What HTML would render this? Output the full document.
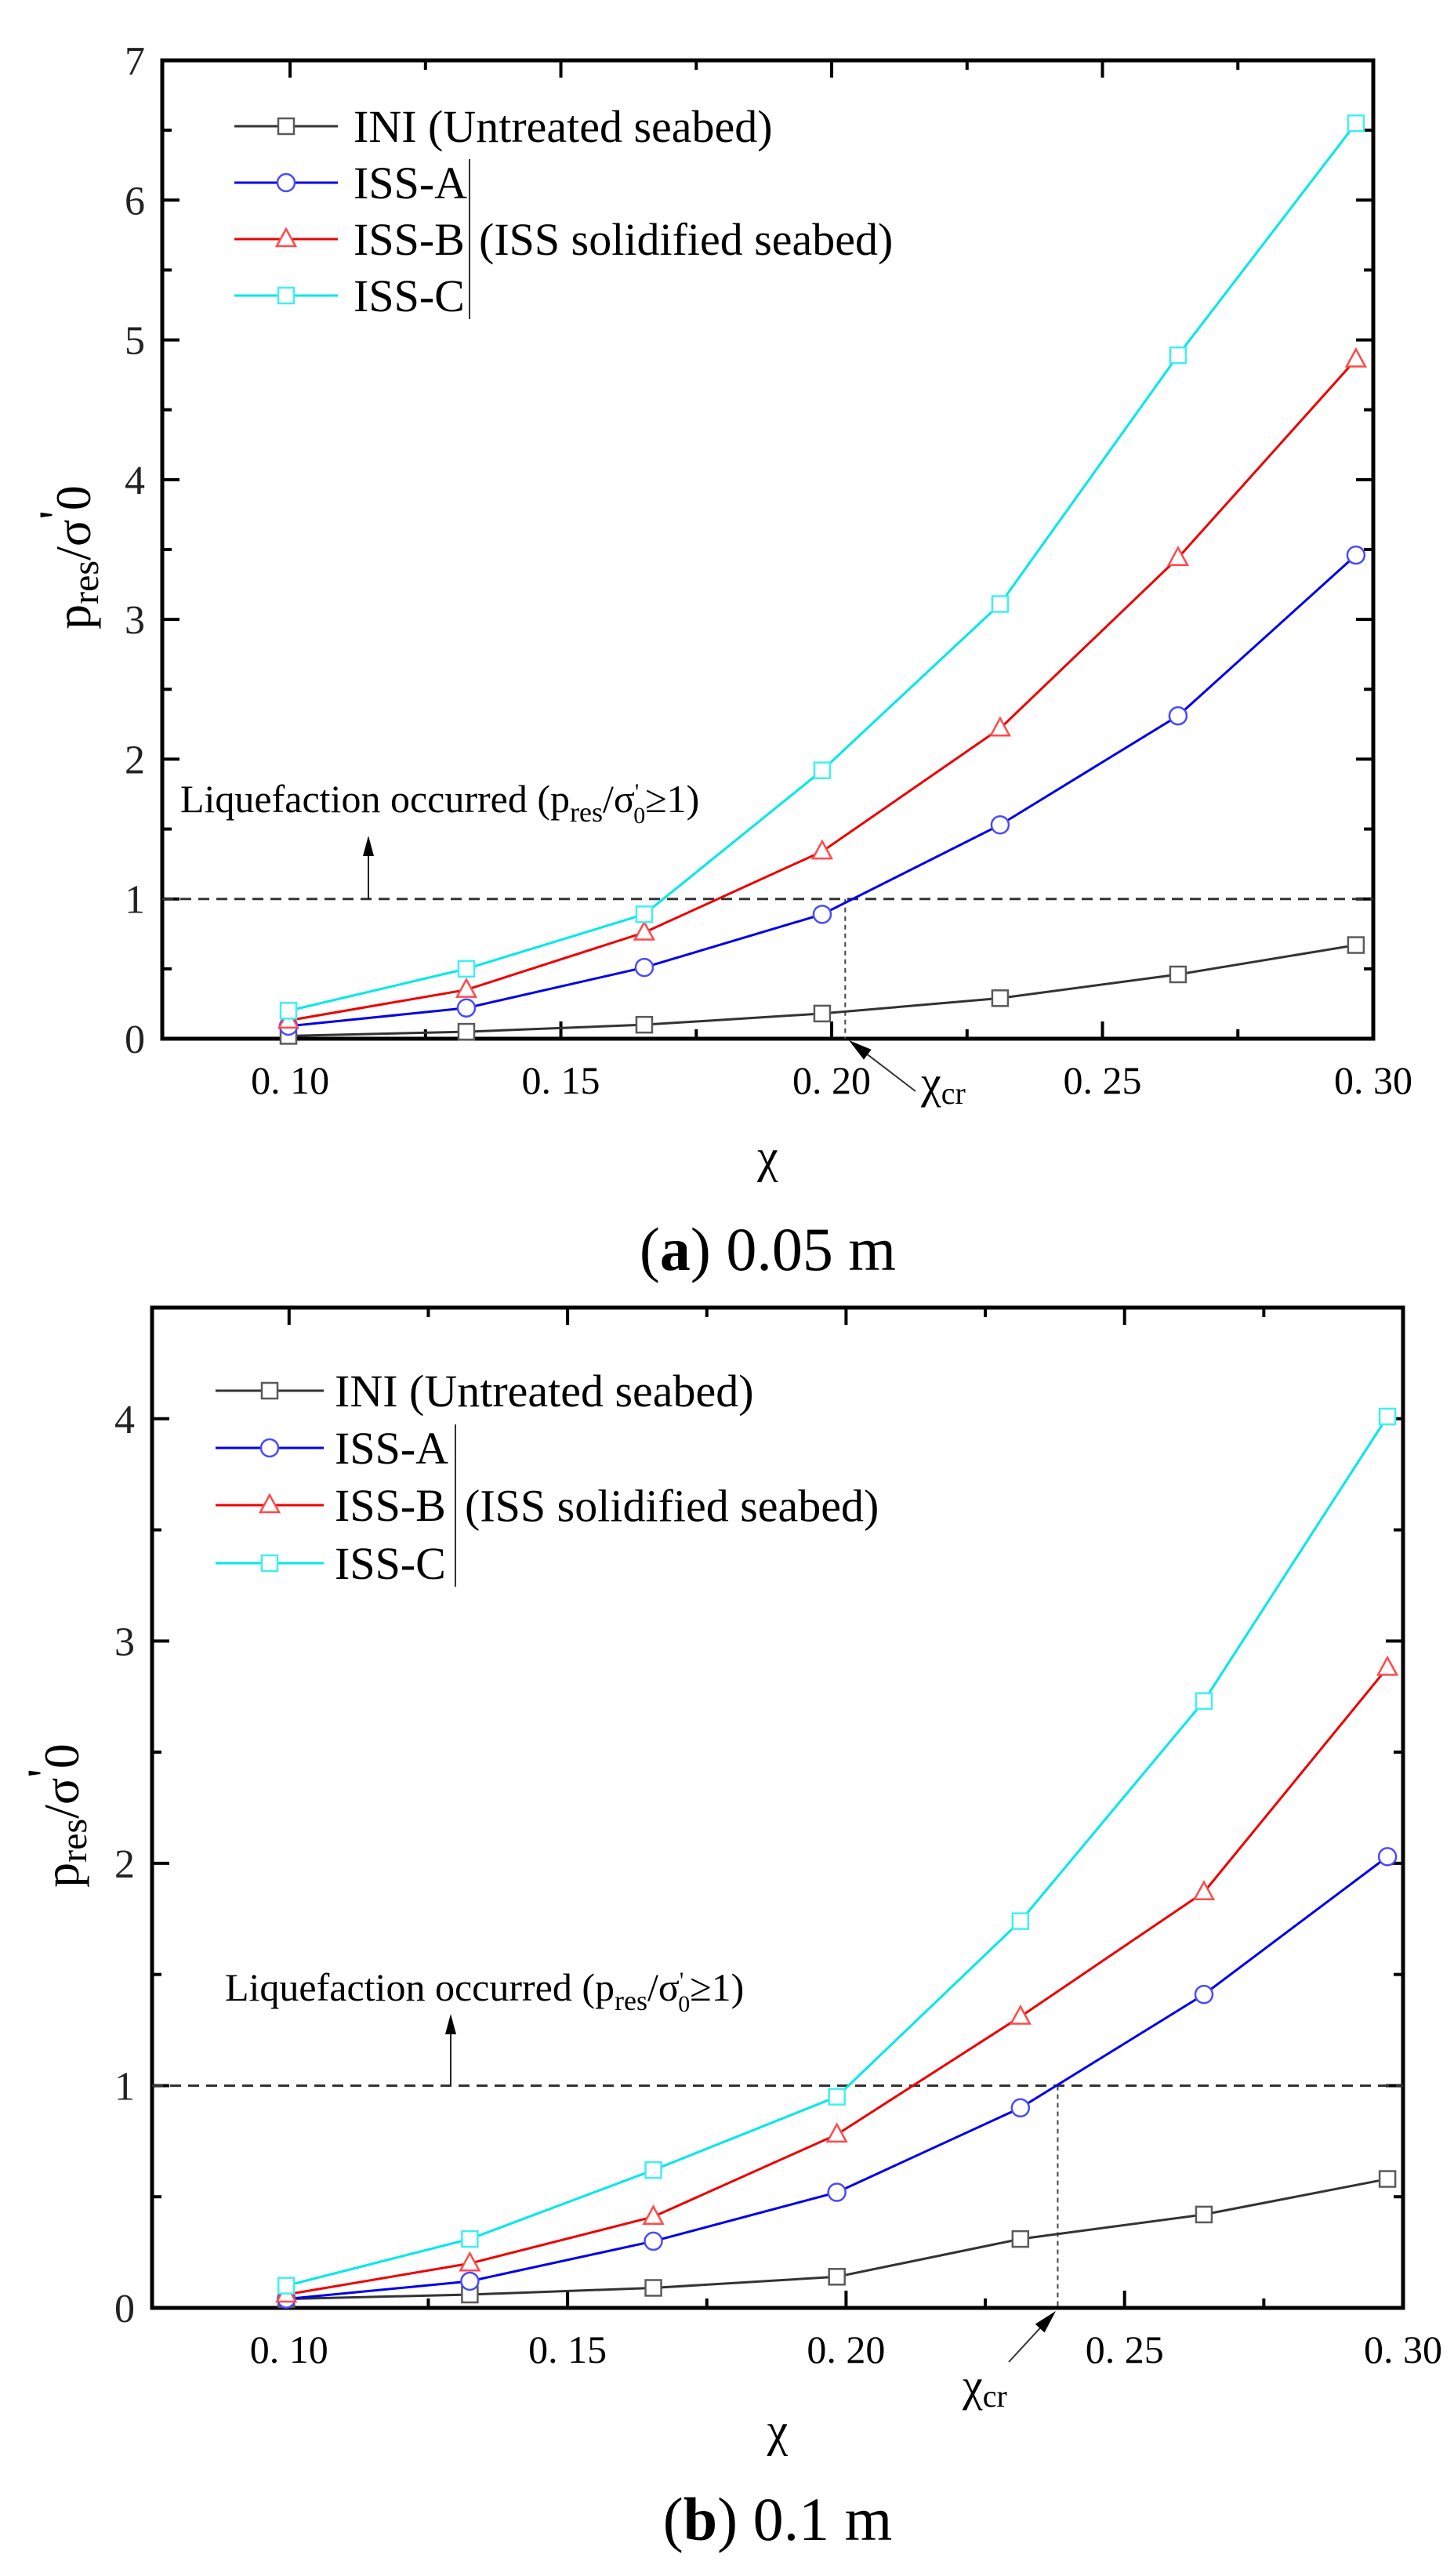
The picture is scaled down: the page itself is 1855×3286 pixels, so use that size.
<!DOCTYPE html>
<html><head><meta charset="utf-8">
<style>
html,body{margin:0;padding:0;background:#fff;}
svg{display:block;font-family:"Liberation Serif",serif;}
</style></head>
<body>
<svg id="s" width="1855" height="3286" viewBox="0 0 1855 3286" xmlns="http://www.w3.org/2000/svg">
<rect width="1855" height="3286" fill="#fff"/>
</svg>
<script>
const S=document.getElementById('s');
const NS='http://www.w3.org/2000/svg';
function el(t,a,txt){const e=document.createElementNS(NS,t);for(const k in a)e.setAttribute(k,a[k]);if(txt!==undefined)e.textContent=txt;S.appendChild(e);return e;}
function html(h){S.insertAdjacentHTML('beforeend',h);}
function chart(c){
  const X=v=>c.L+(v-c.x0)/(c.x1-c.x0)*(c.R-c.L);
  const Y=v=>c.B-(v/c.ymax)*(c.B-c.T);
  for(let v=0.10;v<=0.3001;v+=0.05){const x=X(v);
    el('line',{x1:x,y1:c.B,x2:x,y2:c.B-22,stroke:'#000','stroke-width':4});
    el('line',{x1:x,y1:c.T,x2:x,y2:c.T+22,stroke:'#000','stroke-width':4});
    el('text',{x:x,y:c.B+70,'font-size':50,'text-anchor':'middle'},'0. '+Math.round(v*100));}
  for(let v=0.125;v<0.3;v+=0.05){const x=X(v);
    el('line',{x1:x,y1:c.B,x2:x,y2:c.B-12,stroke:'#000','stroke-width':4});
    el('line',{x1:x,y1:c.T,x2:x,y2:c.T+12,stroke:'#000','stroke-width':4});}
  for(let v=0;v<=c.ymax+0.001;v+=0.5){const y=Y(v);const maj=Math.abs(v-Math.round(v))<0.01;const l=maj?22:12;
    el('line',{x1:c.L,y1:y,x2:c.L+l,y2:y,stroke:'#000','stroke-width':4});
    el('line',{x1:c.R,y1:y,x2:c.R-l,y2:y,stroke:'#000','stroke-width':4});
    if(maj)el('text',{x:c.L-22,y:y+18,'font-size':52,'text-anchor':'end',fill:'#222'},String(Math.round(v)));}
  el('rect',{x:c.L,y:c.T,width:c.R-c.L,height:c.B-c.T,fill:'none',stroke:'#000','stroke-width':5});
  el('line',{x1:c.L,y1:Y(1),x2:c.R,y2:Y(1),stroke:'#333','stroke-width':3,'stroke-dasharray':'14 9'});
  el('line',{x1:X(c.xcr),y1:Y(1),x2:X(c.xcr),y2:c.B,stroke:'#444','stroke-width':2,'stroke-dasharray':'6 5'});
  const xs=[0,1,2,3,4,5,6].map(k=>c.px0+k*c.pdx);
  const ser=[['#5a5a5a','#333','sq',c.ini],['#4a4aff','#0000ee','ci',c.a],['#ff4a4a','#ee0000','tr',c.b],['#40f0f0','#00e8e8','sq',c.c]];
  ser.forEach(s=>{
    el('polyline',{points:xs.map((x,i)=>X(x)+','+Y(s[3][i])).join(' '),fill:'none',stroke:s[1],'stroke-width':3});
  });
  ser.forEach(s=>{xs.forEach((x,i)=>marker(s[2],X(x),Y(s[3][i]),s[0]));});
  const lab=['INI (Untreated seabed)','ISS-A','ISS-B','ISS-C'];
  ser.forEach((s,i)=>{const y=c.leg.y[i];
    el('line',{x1:c.leg.x1,y1:y,x2:c.leg.x2,y2:y,stroke:s[1],'stroke-width':3});
    marker(s[2],(c.leg.x1+c.leg.x2)/2,y,s[0]);
    el('text',{x:c.leg.tx,y:y+20,'font-size':58},lab[i]);});
  el('line',{x1:c.leg.bar,y1:c.leg.y[1]-30,x2:c.leg.bar,y2:c.leg.y[3]+30,stroke:'#333','stroke-width':2});
  el('text',{x:c.leg.bar+12,y:(c.leg.y[1]+c.leg.y[3])/2+20,'font-size':58},'(ISS solidified seabed)');
  html(`<text x="${c.lq.x}" y="${c.lq.y}" font-size="50" font-family="Liberation Serif,serif">Liquefaction occurred (p<tspan font-size="36" dy="12">res</tspan><tspan dy="-12">/σ</tspan><tspan font-size="30" dy="-16">'</tspan><tspan font-size="30" dx="-7" dy="30">0</tspan><tspan dy="-14">≥1)</tspan></text>`);
  el('line',{x1:c.lq.ax,y1:Y(1),x2:c.lq.ax,y2:c.lq.ay+20,stroke:'#222','stroke-width':2});
  el('polygon',{points:`${c.lq.ax},${c.lq.ay} ${c.lq.ax-7},${c.lq.ay+26} ${c.lq.ax+7},${c.lq.ay+26}`,fill:'#000'});
  const a=c.ar; const dx=a.x2-a.x1,dy=a.y2-a.y1,L=Math.hypot(dx,dy),ux=dx/L,uy=dy/L;
  el('line',{x1:a.x1,y1:a.y1,x2:a.x2-ux*20,y2:a.y2-uy*20,stroke:'#333','stroke-width':2});
  const bx=a.x2-ux*30,by=a.y2-uy*30;
  el('polygon',{points:`${a.x2},${a.y2} ${bx-uy*8},${by+ux*8} ${bx+uy*8},${by-ux*8}`,fill:'#000'});
  html(`<text x="${c.cr.x}" y="${c.cr.y}" font-size="58" font-family="Liberation Serif,serif">χ<tspan font-size="40" dy="8">cr</tspan></text>`);
  el('text',{x:(c.L+c.R)/2,y:c.chiY,'font-size':60,'text-anchor':'middle'},'χ');
  html(`<text transform="translate(${c.yl.x},${c.yl.y}) rotate(-90)" text-anchor="middle" font-size="64" font-family="Liberation Serif,serif">p<tspan font-size="48" dy="10">res</tspan><tspan dy="-10">/σ</tspan><tspan dy="-22">'</tspan><tspan dy="22">0</tspan></text>`);
  html(`<text x="${(c.L+c.R)/2}" y="${c.cap.y}" text-anchor="middle" font-size="78" font-family="Liberation Serif,serif">(<tspan font-weight="bold">${c.cap.l}</tspan>) ${c.cap.t}</text>`);
}
function marker(t,x,y,col){
  if(t==='sq')el('rect',{x:x-10,y:y-10,width:20,height:20,fill:'#fff',stroke:col,'stroke-width':2.5});
  else if(t==='ci')el('circle',{cx:x,cy:y,r:11,fill:'#fff',stroke:col,'stroke-width':2.5});
  else el('polygon',{points:`${x},${y-13} ${x-12},${y+9} ${x+12},${y+9}`,fill:'#fff',stroke:col,'stroke-width':2.5});
}
chart({L:207,R:1752,T:77,B:1325,x0:0.0764,x1:0.30,ymax:7,px0:0.0997,pdx:0.03285,xcr:0.2025,
 ini:[0.02,0.05,0.10,0.18,0.29,0.46,0.67],a:[0.09,0.22,0.51,0.89,1.53,2.31,3.46],
 b:[0.13,0.35,0.76,1.34,2.22,3.44,4.86],c:[0.2,0.5,0.89,1.92,3.11,4.89,6.55],
 leg:{y:[161,233,305,377],x1:299,x2:431,tx:451,bar:599},
 lq:{x:230,y:1036,ax:470,ay:1066},ar:{x1:1168,y1:1392,x2:1083,y2:1327},cr:{x:1175,y:1400},
 chiY:1495,yl:{x:115,y:711},cap:{y:1620,l:'a',t:'0.05 m'}});
chart({L:194,R:1790,T:1668,B:2944,x0:0.0754,x1:0.30,ymax:4.5,px0:0.0995,pdx:0.03295,xcr:0.238,
 ini:[0.04,0.06,0.09,0.14,0.31,0.42,0.58],a:[0.04,0.12,0.30,0.52,0.90,1.41,2.03],
 b:[0.06,0.20,0.41,0.78,1.31,1.87,2.88],c:[0.10,0.31,0.62,0.95,1.74,2.73,4.01],
 leg:{y:[1774,1847,1920,1994],x1:275,x2:413,tx:427,bar:581},
 lq:{x:287,y:2552,ax:575,ay:2569},ar:{x1:1287,y1:3013,x2:1347,y2:2948},cr:{x:1228,y:3062},
 chiY:3120,yl:{x:100,y:2316},cap:{y:3240,l:'b',t:'0.1 m'}});
</script>
</body></html>
